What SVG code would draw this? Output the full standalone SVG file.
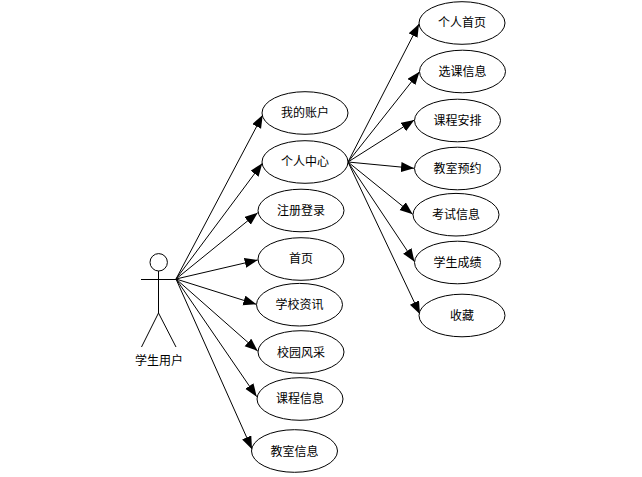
<svg xmlns="http://www.w3.org/2000/svg" width="642" height="477" viewBox="0 0 642 477">
<style>
rect.bg{fill:#fff}
ellipse{fill:#fff;stroke:#000;stroke-width:1}
.a line,.a circle{fill:#fff;stroke:#000;stroke-width:1}
#connectors line{stroke:#000;stroke-width:1;marker-end:url(#arrow)}
text{font-family:"Noto Sans CJK SC","Liberation Sans",sans-serif;font-size:12px;text-anchor:middle;fill:#000}
</style>
<defs>
<marker id="arrow" markerUnits="userSpaceOnUse" markerWidth="14" markerHeight="11" refX="13" refY="5" orient="auto">
<path d="M0,0 L13,5 L0,10 Z" fill="#000"/>
</marker>
</defs>
<rect class="bg" width="642" height="477"/>
<g id="connectors">
<line x1="176" y1="279" x2="262.7" y2="115"/>
<line x1="176" y1="279" x2="262.3" y2="163.3"/>
<line x1="176" y1="279" x2="257.7" y2="212.7"/>
<line x1="176" y1="279" x2="257.7" y2="260"/>
<line x1="176" y1="279" x2="256.3" y2="304.3"/>
<line x1="176" y1="279" x2="257.7" y2="351"/>
<line x1="176" y1="279" x2="256.7" y2="396.7"/>
<line x1="176" y1="279" x2="252" y2="449.3"/>
<line x1="348" y1="162" x2="419" y2="24"/>
<line x1="348" y1="162" x2="419.5" y2="71.7"/>
<line x1="348" y1="162" x2="414.3" y2="120"/>
<line x1="348" y1="162" x2="414" y2="168.3"/>
<line x1="348" y1="162" x2="412.7" y2="214.3"/>
<line x1="348" y1="162" x2="414.5" y2="261.7"/>
<line x1="348" y1="162" x2="420" y2="314.3"/>
</g>
<g id="actor" class="a">
<circle cx="158.7" cy="262.3" r="8.7"/>
<line x1="141" y1="279.5" x2="176" y2="279.5"/>
<line x1="158.5" y1="271" x2="158.5" y2="313"/>
<line x1="158.5" y1="313" x2="141.5" y2="347"/>
<line x1="158.5" y1="313" x2="176" y2="347"/>
<text x="159" y="365">学生用户</text>
</g>
<g id="n1"><ellipse cx="305" cy="113" rx="43" ry="21.3"/><text x="305" y="117">我的账户</text></g>
<g id="n2"><ellipse cx="305" cy="162" rx="43" ry="21.3"/><text x="305" y="166">个人中心</text></g>
<g id="n3"><ellipse cx="301" cy="210.5" rx="43" ry="21.3"/><text x="301" y="215">注册登录</text></g>
<g id="n4"><ellipse cx="301" cy="259" rx="43" ry="21.3"/><text x="301" y="263">首页</text></g>
<g id="n5"><ellipse cx="299.5" cy="304.7" rx="43" ry="21.3"/><text x="299.5" y="309">学校资讯</text></g>
<g id="n6"><ellipse cx="301" cy="352" rx="43" ry="21.3"/><text x="301" y="357">校园风采</text></g>
<g id="n7"><ellipse cx="300" cy="399" rx="43" ry="21.3"/><text x="300" y="403">课程信息</text></g>
<g id="n8"><ellipse cx="294.5" cy="451" rx="43" ry="21.3"/><text x="294.5" y="456">教室信息</text></g>
<g id="m1"><ellipse cx="462" cy="23" rx="43" ry="21.3"/><text x="462" y="27">个人首页</text></g>
<g id="m2"><ellipse cx="462.5" cy="71.5" rx="43" ry="21.3"/><text x="462.5" y="76">选课信息</text></g>
<g id="m3"><ellipse cx="457.5" cy="120.5" rx="43" ry="21.3"/><text x="457.5" y="125">课程安排</text></g>
<g id="m4"><ellipse cx="457.5" cy="168.5" rx="43" ry="21.3"/><text x="457.5" y="173">教室预约</text></g>
<g id="m5"><ellipse cx="456" cy="214.7" rx="43" ry="21.3"/><text x="456" y="219">考试信息</text></g>
<g id="m6"><ellipse cx="457.5" cy="262.5" rx="43" ry="21.3"/><text x="457.5" y="267">学生成绩</text></g>
<g id="m7"><ellipse cx="462" cy="315.5" rx="43" ry="21.3"/><text x="462" y="320">收藏</text></g>
</svg>
